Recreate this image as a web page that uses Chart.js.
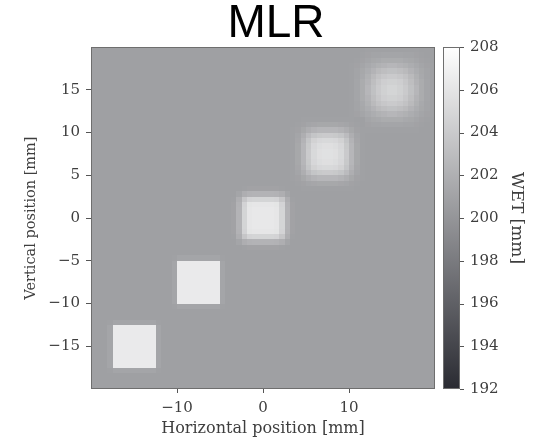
<!DOCTYPE html>
<html><head><meta charset="utf-8">
<script src="https://cdn.jsdelivr.net/npm/chart.js@4"></script>
<style>html,body{margin:0;padding:0;background:#fff;}</style>
</head><body>
<canvas id="c" width="535" height="444"></canvas>
<script>
// ---- data ----
const xTicks = [-10, 0, 10];
const yTicks = [-15, -10, -5, 0, 5, 10, 15];
const wetTicks = [192, 194, 196, 198, 200, 202, 204, 206, 208];
const xExtent = [-20, 20];
const yExtent = [-20, 20];
const wetRange = [192, 208];
const wetBackground = 200.8;        // WET [mm] of the flat phantom region
const cellSize = 0.625;             // mm per reconstructed cell
// upper-left corner (mm) of each square's cell block
const squareLeft = [-18.125, -10.625, -3.75, 3.125, 10];
const squareTop  = [-11.875, -4.375, 3.75, 11.875, 20];
// WET [mm] per cell, top row first
const square1 = [
[200.9,201.2,201.2,201.2,201.2,201.2,201.2,201.2,201.2,200.9],
[201.2,206.4,206.4,206.4,206.4,206.4,206.4,206.4,206.4,201.2],
[201.2,206.4,206.4,206.4,206.4,206.4,206.4,206.4,206.4,201.2],
[201.2,206.4,206.4,206.4,206.4,206.4,206.4,206.4,206.4,201.2],
[201.2,206.4,206.4,206.4,206.4,206.4,206.4,206.4,206.4,201.2],
[201.2,206.4,206.4,206.4,206.4,206.4,206.4,206.4,206.4,201.2],
[201.2,206.4,206.4,206.4,206.4,206.4,206.4,206.4,206.4,201.2],
[201.2,206.4,206.4,206.4,206.4,206.4,206.4,206.4,206.4,201.2],
[201.2,206.4,206.4,206.4,206.4,206.4,206.4,206.4,206.4,201.2],
[200.9,201.2,201.2,201.2,201.2,201.2,201.2,201.2,201.2,200.9]
];
const square2 = [
[200.9,201.2,201.2,201.2,201.2,201.2,201.2,201.2,201.2,200.9],
[201.2,206.4,206.4,206.4,206.4,206.4,206.4,206.4,206.4,201.2],
[201.2,206.4,206.4,206.4,206.4,206.4,206.4,206.4,206.4,201.2],
[201.2,206.4,206.4,206.4,206.4,206.4,206.4,206.4,206.4,201.2],
[201.2,206.4,206.4,206.4,206.4,206.4,206.4,206.4,206.4,201.2],
[201.2,206.4,206.4,206.4,206.4,206.4,206.4,206.4,206.4,201.2],
[201.2,206.4,206.4,206.4,206.4,206.4,206.4,206.4,206.4,201.2],
[201.2,206.4,206.4,206.4,206.4,206.4,206.4,206.4,206.4,201.2],
[201.2,206.4,206.4,206.4,206.4,206.4,206.4,206.4,206.4,201.2],
[200.9,201.2,201.2,201.2,201.2,201.2,201.2,201.2,201.2,200.9]
];
const square3 = [
[200.8,200.8,200.9,201.0,201.0,201.0,201.0,201.0,201.0,200.9,200.8,200.8],
[200.8,201.2,201.9,202.2,202.3,202.3,202.3,202.3,202.2,201.9,201.2,200.8],
[200.9,201.9,203.7,204.7,204.8,204.8,204.8,204.8,204.7,203.7,201.9,200.9],
[201.0,202.2,204.7,206.0,206.1,206.1,206.1,206.1,206.0,204.7,202.2,201.0],
[201.0,202.3,204.8,206.1,206.3,206.3,206.3,206.3,206.1,204.8,202.3,201.0],
[201.0,202.3,204.8,206.1,206.3,206.3,206.3,206.3,206.1,204.8,202.3,201.0],
[201.0,202.3,204.8,206.1,206.3,206.3,206.3,206.3,206.1,204.8,202.3,201.0],
[201.0,202.3,204.8,206.1,206.3,206.3,206.3,206.3,206.1,204.8,202.3,201.0],
[201.0,202.2,204.7,206.0,206.1,206.1,206.1,206.1,206.0,204.7,202.2,201.0],
[200.9,201.9,203.7,204.7,204.8,204.8,204.8,204.8,204.7,203.7,201.9,200.9],
[200.8,201.2,201.9,202.2,202.3,202.3,202.3,202.3,202.2,201.9,201.2,200.8],
[200.8,200.8,200.9,201.0,201.0,201.0,201.0,201.0,201.0,200.9,200.8,200.8]
];
const square4 = [
[200.8,200.8,200.9,200.9,200.9,200.9,200.9,200.9,200.9,200.9,200.9,200.9,200.8,200.8],
[200.8,200.9,201.0,201.2,201.3,201.4,201.4,201.4,201.4,201.3,201.2,201.0,200.9,200.8],
[200.9,201.0,201.4,201.9,202.3,202.5,202.5,202.5,202.5,202.3,201.9,201.4,201.0,200.9],
[200.9,201.2,201.9,202.9,203.6,203.9,204.0,204.0,203.9,203.6,202.9,201.9,201.2,200.9],
[200.9,201.3,202.3,203.6,204.6,205.0,205.1,205.1,205.0,204.6,203.6,202.3,201.3,200.9],
[200.9,201.4,202.5,203.9,205.0,205.4,205.6,205.6,205.4,205.0,203.9,202.5,201.4,200.9],
[200.9,201.4,202.5,204.0,205.1,205.6,205.7,205.7,205.6,205.1,204.0,202.5,201.4,200.9],
[200.9,201.4,202.5,204.0,205.1,205.6,205.7,205.7,205.6,205.1,204.0,202.5,201.4,200.9],
[200.9,201.4,202.5,203.9,205.0,205.4,205.6,205.6,205.4,205.0,203.9,202.5,201.4,200.9],
[200.9,201.3,202.3,203.6,204.6,205.0,205.1,205.1,205.0,204.6,203.6,202.3,201.3,200.9],
[200.9,201.2,201.9,202.9,203.6,203.9,204.0,204.0,203.9,203.6,202.9,201.9,201.2,200.9],
[200.9,201.0,201.4,201.9,202.3,202.5,202.5,202.5,202.5,202.3,201.9,201.4,201.0,200.9],
[200.8,200.9,201.0,201.2,201.3,201.4,201.4,201.4,201.4,201.3,201.2,201.0,200.9,200.8],
[200.8,200.8,200.9,200.9,200.9,200.9,200.9,200.9,200.9,200.9,200.9,200.9,200.8,200.8]
];
const square5 = [
[200.8,200.8,200.8,200.9,200.9,200.9,200.9,200.9,200.9,200.9,200.9,200.9,200.9,200.8,200.8,200.8],
[200.8,200.8,200.9,201.0,201.1,201.1,201.2,201.2,201.2,201.2,201.1,201.1,201.0,200.9,200.8,200.8],
[200.8,200.9,201.0,201.2,201.4,201.5,201.7,201.7,201.7,201.7,201.5,201.4,201.2,201.0,200.9,200.8],
[200.9,201.0,201.2,201.5,201.8,202.1,202.3,202.5,202.5,202.3,202.1,201.8,201.5,201.2,201.0,200.9],
[200.9,201.1,201.4,201.8,202.3,202.8,203.1,203.3,203.3,203.1,202.8,202.3,201.8,201.4,201.1,200.9],
[200.9,201.1,201.5,202.1,202.8,203.4,203.8,204.0,204.0,203.8,203.4,202.8,202.1,201.5,201.1,200.9],
[200.9,201.2,201.7,202.3,203.1,203.8,204.3,204.5,204.5,204.3,203.8,203.1,202.3,201.7,201.2,200.9],
[200.9,201.2,201.7,202.5,203.3,204.0,204.5,204.8,204.8,204.5,204.0,203.3,202.5,201.7,201.2,200.9],
[200.9,201.2,201.7,202.5,203.3,204.0,204.5,204.8,204.8,204.5,204.0,203.3,202.5,201.7,201.2,200.9],
[200.9,201.2,201.7,202.3,203.1,203.8,204.3,204.5,204.5,204.3,203.8,203.1,202.3,201.7,201.2,200.9],
[200.9,201.1,201.5,202.1,202.8,203.4,203.8,204.0,204.0,203.8,203.4,202.8,202.1,201.5,201.1,200.9],
[200.9,201.1,201.4,201.8,202.3,202.8,203.1,203.3,203.3,203.1,202.8,202.3,201.8,201.4,201.1,200.9],
[200.9,201.0,201.2,201.5,201.8,202.1,202.3,202.5,202.5,202.3,202.1,201.8,201.5,201.2,201.0,200.9],
[200.8,200.9,201.0,201.2,201.4,201.5,201.7,201.7,201.7,201.7,201.5,201.4,201.2,201.0,200.9,200.8],
[200.8,200.8,200.9,201.0,201.1,201.1,201.2,201.2,201.2,201.2,201.1,201.1,201.0,200.9,200.8,200.8],
[200.8,200.8,200.8,200.9,200.9,200.9,200.9,200.9,200.9,200.9,200.9,200.9,200.9,200.8,200.8,200.8]
];
const squarePatches = [square1, square2, square3, square4, square5];

// ---- styles ----
const CMAP_LOW = [42, 43, 50];
const CMAP_HIGH = [255, 255, 255];
const SERIF = "'DejaVu Serif', serif";
const TEXT = '#3e3e3e';
const FRAME = '#6e6e6e';

function cmap(v) {
  let t = (v - wetRange[0]) / (wetRange[1] - wetRange[0]);
  t = Math.max(0, Math.min(1, t));
  const c = CMAP_LOW.map((lo, i) => Math.round(lo + t * (CMAP_HIGH[i] - lo)));
  return `rgb(${c[0]},${c[1]},${c[2]})`;
}
const fmt = v => (v < 0 ? '\u2212' + Math.abs(v) : String(v));

function fillCell(ctx, x, y, x0, x1, yT, yB, v) {
  const px0 = Math.round(x.getPixelForValue(x0));
  const px1 = Math.round(x.getPixelForValue(x1));
  const py0 = Math.round(y.getPixelForValue(yT));
  const py1 = Math.round(y.getPixelForValue(yB));
  ctx.fillStyle = cmap(v);
  ctx.fillRect(px0, py0, px1 - px0, py1 - py0);
}

const heatmapPlugin = {
  id: 'heatmap',
  beforeDatasetsDraw(chart) {
    const { ctx, scales: { x, y } } = chart;
    ctx.save();
    fillCell(ctx, x, y, xExtent[0], xExtent[1], yExtent[1], yExtent[0], wetBackground);
    for (let k = squarePatches.length - 1; k >= 0; k--) {
      const patch = squarePatches[k];
      patch.forEach((row, r) => {
        row.forEach((v, c) => {
          const x0 = squareLeft[k] + c * cellSize;
          const yT = squareTop[k] - r * cellSize;
          fillCell(ctx, x, y, x0, x0 + cellSize, yT, yT - cellSize, v);
        });
      });
    }
    ctx.restore();
  },
  afterDraw(chart) {
    const { ctx, chartArea: a } = chart;
    ctx.save();
    ctx.strokeStyle = FRAME;
    ctx.lineWidth = 1;
    ctx.strokeRect(Math.round(a.left) + 0.5, Math.round(a.top) + 0.5,
      Math.round(a.right) - Math.round(a.left) - 1, Math.round(a.bottom) - Math.round(a.top) - 1);
    // colorbar
    const cb = chart.scales.cb;
    const x0 = Math.round(a.right) + 8, w = 17;
    const yTop = cb.getPixelForValue(wetRange[1]);
    const yBot = cb.getPixelForValue(wetRange[0]);
    const g = ctx.createLinearGradient(0, yBot, 0, yTop);
    g.addColorStop(0, cmap(wetRange[0]));
    g.addColorStop(1, cmap(wetRange[1]));
    ctx.fillStyle = g;
    ctx.fillRect(x0, yTop, w, yBot - yTop);
    ctx.strokeStyle = FRAME;
    ctx.strokeRect(x0 + 0.5, Math.round(yTop) + 0.5, w - 1, Math.round(yBot - yTop) - 1);
    ctx.strokeStyle = '#555';
    cb.ticks.forEach(t => {
      const py = Math.round(cb.getPixelForValue(t.value)) + 0.5;
      ctx.beginPath();
      ctx.moveTo(x0 + w, py);
      ctx.lineTo(x0 + w + 4, py);
      ctx.stroke();
    });
    ctx.restore();
  }
};

new Chart(document.getElementById('c'), {
  type: 'scatter',
  data: { datasets: [{ data: [], pointRadius: 0 }] },
  plugins: [heatmapPlugin],
  options: {
    responsive: false,
    animation: false,
    layout: { padding: { left: 17, right: 0, top: 0, bottom: 0 } },
    plugins: {
      legend: { display: false },
      tooltip: { enabled: false },
      title: {
        display: true, text: 'MLR', color: '#000',
        font: { family: "'Liberation Sans', Arial, sans-serif", size: 46, weight: 'normal', lineHeight: 0.97 },
        padding: { top: 2.5, bottom: 0 }
      }
    },
    scales: {
      x: {
        type: 'linear', position: 'bottom', min: xExtent[0], max: xExtent[1],
        afterBuildTicks: s => { s.ticks = xTicks.map(v => ({ value: v })); },
        afterFit: s => { s.height = 55; },
        grid: { display: true, drawOnChartArea: false, drawTicks: true, tickLength: 4, color: '#555' },
        border: { display: false },
        ticks: { padding: 6, color: TEXT, font: { family: SERIF, size: 15 }, callback: v => fmt(v), maxRotation: 0 },
        title: { display: true, text: 'Horizontal position [mm]', color: TEXT, font: { family: SERIF, size: 16 }, padding: { top: 0, bottom: 6 } }
      },
      y: {
        type: 'linear', position: 'left', min: yExtent[0], max: yExtent[1],
        afterBuildTicks: s => { s.ticks = yTicks.map(v => ({ value: v })); },
        afterFit: s => { s.width = 74; },
        grid: { display: true, drawOnChartArea: false, drawTicks: true, tickLength: 5, color: '#555' },
        border: { display: false },
        ticks: { padding: 6, color: TEXT, font: { family: SERIF, size: 15 }, callback: v => fmt(v) },
        title: { display: true, text: 'Vertical position [mm]', color: TEXT, font: { family: SERIF, size: 14.5 }, padding: { top: 6, bottom: 0 } }
      },
      cb: {
        type: 'linear', position: 'right', axis: 'y', display: true, min: wetRange[0], max: wetRange[1],
        afterBuildTicks: s => { s.ticks = wetTicks.map(v => ({ value: v })); },
        afterFit: s => { s.width = 100; },
        grid: { display: false, drawTicks: false },
        border: { display: false },
        ticks: { padding: 35, color: TEXT, font: { family: SERIF, size: 15 } },
        title: { display: true, text: 'WET [mm]', color: TEXT, font: { family: SERIF, size: 17 }, padding: { top: 8, bottom: 0 } }
      }
    }
  }
});
</script>
</body></html>
